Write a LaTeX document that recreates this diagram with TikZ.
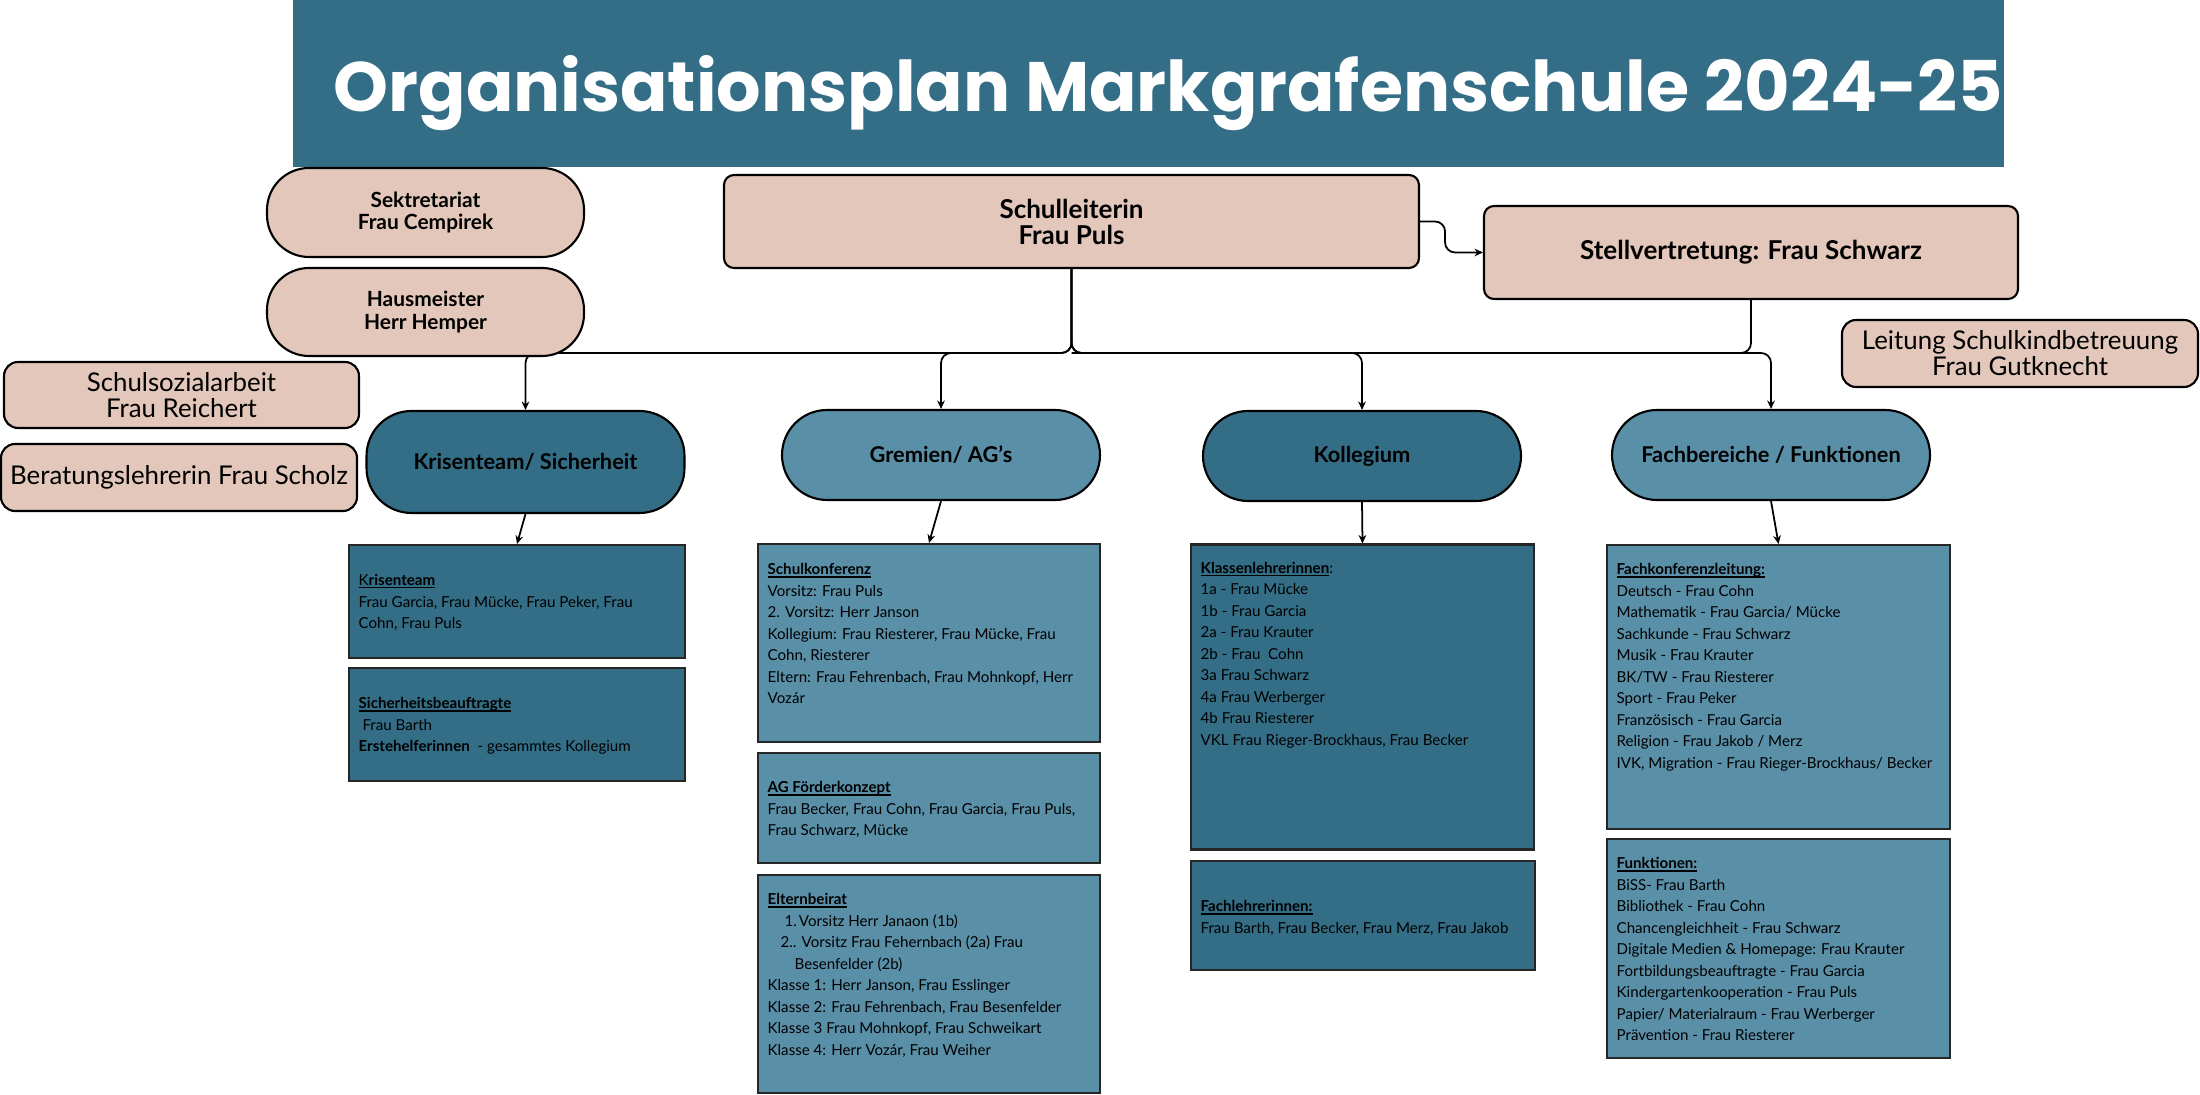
\documentclass[tikz,border=0pt]{standalone}
\usepackage{fontspec}
\setmainfont{Lato}
\newfontfamily\titelschrift{Poppins}
\newsavebox{\strichbox}
\newcommand{\unterstrich}[1]{\sbox{\strichbox}{#1}\rlap{\rule[-0.75pt]{\wd\strichbox}{0.3pt}}\usebox{\strichbox}}
\usepackage{xcolor}
\usepackage{tikz}
\usetikzlibrary{arrows.meta,backgrounds}

\definecolor{petrol}{HTML}{336E86}
\definecolor{hellpetrol}{HTML}{5A8FA8}
\definecolor{rosa}{HTML}{E2C7BA}

\begin{document}
\begin{tikzpicture}[scale=1,
  rosarund/.style={draw, line width=0.6pt, fill=rosa, rounded corners=0.42cm, minimum width=3.17cm, minimum height=0.89cm, inner sep=0, align=center, font=\fontsize{5.95}{6.4}\selectfont\bfseries},
  leitung/.style={draw, line width=0.6pt, fill=rosa, rounded corners=0.1cm, minimum height=0.93cm, inner sep=0, align=center, font=\fontsize{7.4}{7.4}\selectfont\bfseries},
  rosabox/.style={draw, line width=0.6pt, fill=rosa, rounded corners=0.14cm, minimum height=0.67cm, inner sep=0, align=center, font=\fontsize{7.35}{7.4}\selectfont},
  bereich/.style={draw, line width=0.6pt, rounded corners=0.45cm, minimum width=3.18cm, minimum height=0.9cm, inner sep=0, font=\fontsize{6.2}{7}\selectfont\bfseries},
  kasten/.style={draw=black!85, line width=0.6pt, inner sep=0},
  liste/.style={anchor=north west, inner sep=0, align=left, font=\fontsize{4.3}{6.12}\selectfont},
  linie/.style={line width=0.5pt, rounded corners=0.1cm},
  pfeil/.style={linie, -{Stealth[length=2.4pt,width=2.2pt]}}
]
  % Frame
  \useasboundingbox (0,0) rectangle (22,10.94);

  % Title
  \node[fill=petrol, minimum width=17.11cm, minimum height=1.67cm, inner sep=0] (titel) at (11.485,10.105) {};
  \node[anchor=base west, inner sep=0, text=white, font=\titelschrift\fontsize{19.9}{22}\selectfont\bfseries] (titeltext) at (3.33,9.82) {Organisationsplan Markgrafenschule 2024-25};

  % Leitung
  \node[leitung, minimum width=6.95cm] (schul) at (10.715,8.725) {Schulleiterin\\Frau Puls};
  \node[leitung, minimum width=5.34cm] (stell) at (17.51,8.415) {Stellvertretung: Frau Schwarz};
  \node[rosarund] (sekr) at (4.255,8.815) {Sektretariat\\Frau Cempirek};
  \node[rosarund, minimum height=0.88cm] (haus) at (4.255,7.82) {Hausmeister\\Herr Hemper};
  \node[rosabox, minimum width=3.56cm] (betreuung) at (20.2,7.405) {Leitung Schulkindbetreuung\\Frau Gutknecht};
  \node[rosabox, minimum width=3.55cm, minimum height=0.66cm] (sozial) at (1.815,6.99) {Schulsozialarbeit\\Frau Reichert};
  \node[rosabox, minimum width=3.56cm] (beratung) at (1.79,6.165) {Beratungslehrerin Frau Scholz};

  % Bereiche
  \node[bereich, fill=petrol, minimum height=1.02cm] (kris) at (5.255,6.32) {Krisenteam/ Sicherheit};
  \node[bereich, fill=hellpetrol] (grem) at (9.41,6.39) {Gremien/ AG’s};
  \node[bereich, fill=petrol] (koll) at (13.62,6.38) {Kollegium};
  \node[bereich, fill=hellpetrol] (fach) at (17.71,6.39) {Fachbereiche / Funktionen};

  % Kaesten
  \node[kasten, fill=petrol, minimum width=3.36cm, minimum height=1.13cm] (krisbox) at (5.17,4.925) {};
  \node[kasten, fill=petrol, minimum width=3.36cm, minimum height=1.13cm] (sichbox) at (5.17,3.695) {};
  \node[kasten, fill=hellpetrol, minimum width=3.42cm, minimum height=1.98cm] (konfbox) at (9.29,4.51) {};
  \node[kasten, fill=hellpetrol, minimum width=3.42cm, minimum height=1.10cm] (agbox) at (9.29,2.86) {};
  \node[kasten, fill=hellpetrol, minimum width=3.42cm, minimum height=2.18cm] (elternbox) at (9.29,1.10) {};
  \node[kasten, fill=petrol, minimum width=3.43cm, minimum height=3.05cm] (klassbox) at (13.625,3.97) {};
  \node[kasten, fill=petrol, minimum width=3.44cm, minimum height=1.09cm] (fachlbox) at (13.63,1.785) {};
  \node[kasten, fill=hellpetrol, minimum width=3.43cm, minimum height=2.84cm] (fachkbox) at (17.785,4.07) {};
  \node[kasten, fill=hellpetrol, minimum width=3.43cm, minimum height=2.19cm] (funkbox) at (17.785,1.455) {};

  % Texte
  \node[liste] (kristext) at ([shift={(0.1,-0.3)}]krisbox.north west) {\unterstrich{K\textbf{risenteam}}\\Frau Garcia, Frau Mücke, Frau Peker, Frau\\Cohn, Frau Puls};
  \node[liste] (sichtext) at ([shift={(0.1,-0.3)}]sichbox.north west) {\unterstrich{\textbf{Sicherheitsbeauftragte}}\\\ Frau Barth\\\textbf{Erstehelferinnen}\ \ - gesammtes Kollegium};
  \node[liste] (konftext) at ([shift={(0.1,-0.2)}]konfbox.north west) {\unterstrich{\textbf{Schulkonferenz}}\\Vorsitz: Frau Puls\\2. Vorsitz: Herr Janson\\Kollegium: Frau Riesterer, Frau Mücke, Frau\\Cohn, Riesterer\\Eltern: Frau Fehrenbach, Frau Mohnkopf, Herr\\Vozár};
  \node[liste] (agtext) at ([shift={(0.1,-0.29)}]agbox.north west) {\unterstrich{\textbf{AG Förderkonzept}}\\Frau Becker, Frau Cohn, Frau Garcia, Frau Puls,\\Frau Schwarz, Mücke};
  \node[liste] (elterntext) at ([shift={(0.1,-0.19)}]elternbox.north west) {\unterstrich{\textbf{Elternbeirat}}\\\hspace*{0.17cm}1.\hspace*{0.02cm}Vorsitz Herr Janaon (1b)\\\hspace*{0.13cm}2.. Vorsitz Frau Fehernbach (2a) Frau\\\hspace*{0.27cm}Besenfelder (2b)\\Klasse 1: Herr Janson, Frau Esslinger\\Klasse 2: Frau Fehrenbach, Frau Besenfelder\\Klasse 3 Frau Mohnkopf, Frau Schweikart\\Klasse 4: Herr Vozár, Frau Weiher};
  \node[liste] (klasstext) at ([shift={(0.1,-0.18)}]klassbox.north west) {\unterstrich{\textbf{Klassenlehrerinnen}}:\\1a - Frau Mücke\\1b - Frau Garcia\\2a - Frau Krauter\\2b - Frau\ \ Cohn\\3a Frau Schwarz\\4a Frau Werberger\\4b Frau Riesterer\\VKL Frau Rieger-Brockhaus, Frau Becker};
  \node[liste] (fachltext) at ([shift={(0.1,-0.4)}]fachlbox.north west) {\unterstrich{\textbf{Fachlehrerinnen:}}\\Frau Barth, Frau Becker, Frau Merz, Frau Jakob};
  \node[liste] (fachktext) at ([shift={(0.1,-0.19)}]fachkbox.north west) {\unterstrich{\textbf{Fachkonferenzleitung:}}\\Deutsch - Frau Cohn\\Mathematik - Frau Garcia/ Mücke\\Sachkunde - Frau Schwarz\\Musik - Frau Krauter\\BK/TW - Frau Riesterer\\Sport - Frau Peker\\Französisch - Frau Garcia\\Religion - Frau Jakob / Merz\\IVK, Migration - Frau Rieger-Brockhaus/ Becker};
  \node[liste] (funktext) at ([shift={(0.1,-0.19)}]funkbox.north west) {\unterstrich{\textbf{Funktionen:}}\\BiSS- Frau Barth\\Bibliothek - Frau Cohn\\Chancengleichheit - Frau Schwarz\\Digitale Medien \& Homepage: Frau Krauter\\Fortbildungsbeauftragte - Frau Garcia\\Kindergartenkooperation - Frau Puls\\Papier/ Materialraum - Frau Werberger\\Prävention - Frau Riesterer};

  % Verbindungen
  \coordinate (verteiler) at (10.715,7.41);
  \begin{scope}[on background layer]
    \draw[pfeil] (schul.east) -- ++(0.25,0) |- (stell.west);
    \draw[linie] (stell) |- (verteiler);
    \foreach \ziel in {kris,grem,koll,fach}
      \draw[pfeil] (schul) -- (verteiler) -| (\ziel);
  \end{scope}
  \draw[pfeil] (kris.south) -- (krisbox.north);
  \draw[pfeil] (grem.south) -- (konfbox.north);
  \draw[pfeil] (koll.south) -- (klassbox.north);
  \draw[pfeil] (fach.south) -- (fachkbox.north);
\end{tikzpicture}
\end{document}
